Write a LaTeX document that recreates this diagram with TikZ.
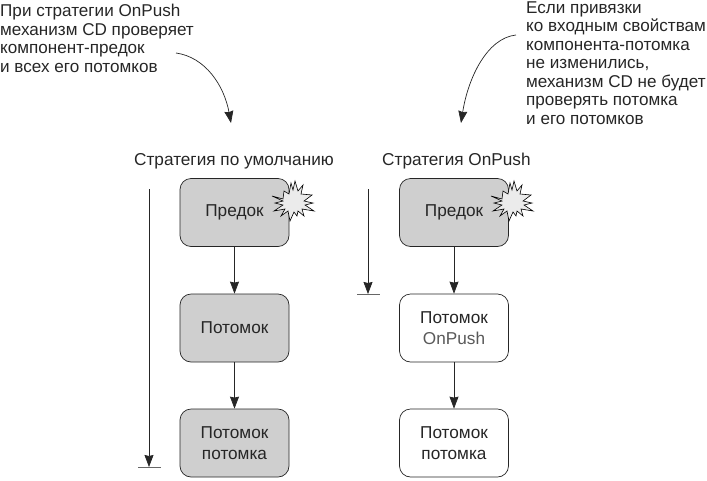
\documentclass[tikz,border=0pt]{standalone}
\usepackage{fontspec}
\setmainfont{Liberation Sans}
\usetikzlibrary{arrows.meta}
\definecolor{boxgray}{gray}{0.81}
\definecolor{burstgray}{gray}{0.92}
\definecolor{linegray}{gray}{0.15}
\tikzset{
  comp/.style={draw=linegray, text=linegray, line width=0.7pt, rounded corners=11pt, minimum width=109pt, minimum height=68pt, align=center, inner sep=0pt, font=\fontsize{17.2}{21}\selectfont},
  checked/.style={comp, fill=boxgray},
  skipped/.style={comp, fill=white},
  note/.style={anchor=north west, text=linegray, align=left, inner sep=0pt, font=\fontsize{17.1}{18.5}\selectfont},
  heading/.style={anchor=base west, text=linegray, inner sep=0pt, font=\fontsize{17.2}{18.6}\selectfont},
  flow/.style={draw=linegray, line width=0.7pt, -{Stealth[length=12pt,width=9pt,inset=1pt]}},
  stopbar/.style={draw=black!60, line width=1pt},
  burst/.pic={
    \draw[fill=burstgray, line width=0.6pt] (-21,-7) -- (-10,-4) -- (-9,-12) -- (-4,-9) -- (-2,-20) -- (0,-13) -- (2,-22) -- (5,-12) -- (10,-18) -- (8,-9) -- (19,-8) -- (11,-2) -- (20,0) -- (12,2) -- (21,8) -- (9,6) -- (11,13) -- (5,8) -- (4,13) -- (1,9) -- (-3,18) -- (-5,8) -- (-12,13) -- (-8,6) -- (-19,8) -- (-10,2) -- (-18,0) -- (-10,-2) -- cycle;
  }
}
\begin{document}
\begin{tikzpicture}[x=1pt,y=-1pt,>=stealth]
\useasboundingbox (0,0) rectangle (707,480);
% explanatory notes at the top
\node[note] (noteleft) at (0,4) {При стратегии OnPush\\механизм CD проверяет\\компонент-предок\\и всех его потомков};
\node[note] (noteright) at (526,1.5) {Если привязки\\ко входным свойствам\\компонента-потомка\\не изменились,\\механизм CD не будет\\проверять потомка\\и его потомков};
\coordinate (startleft) at (176,53);
\coordinate (endleft) at (231,123);
\coordinate (startright) at (516,35);
\coordinate (endright) at (461,123);
\draw[flow] (startleft) .. controls (205,57) and (224,85) .. (endleft);
\draw[flow] (startright) .. controls (487,38) and (468,78) .. (endright);
% column headings
\node[heading] (titledefault) at (134,165) {Стратегия по умолчанию};
\node[heading] (titlepush) at (382,165) {Стратегия OnPush};
% default strategy
\node[checked] (parentdefault) at (234.5,212.5) {Предок};
\node[checked] (childdefault) at (234.5,328) {Потомок};
\node[checked] (granddefault) at (234.5,443) {Потомок\\потомка};
\draw[flow] (parentdefault) -- (childdefault);
\draw[flow] (childdefault) -- (granddefault);
% OnPush strategy
\node[checked] (parentpush) at (454,212.5) {Предок};
\node[skipped] (childpush) at (454,328) {Потомок\\\textcolor{black!65}{OnPush}};
\node[skipped] (grandpush) at (454,443) {Потомок\\потомка};
\draw[flow] (parentpush) -- (childpush);
\draw[flow] (childpush) -- (grandpush);
% change marks
\pic (burstdefault) at (293,203) {burst};
\pic (burstpush) at (512,203) {burst};
% how far each check goes
\coordinate (rundefaulttop) at (149,189);
\coordinate (rundefaultend) at (149,467);
\coordinate (runpushtop) at (368,189);
\coordinate (runpushend) at (368,294);
\draw[flow] (rundefaulttop) -- (rundefaultend);
\draw[flow] (runpushtop) -- (runpushend);
\draw[stopbar] (138,467) -- (161,467);
\draw[stopbar] (357,294) -- (380,294);
\end{tikzpicture}
\end{document}
